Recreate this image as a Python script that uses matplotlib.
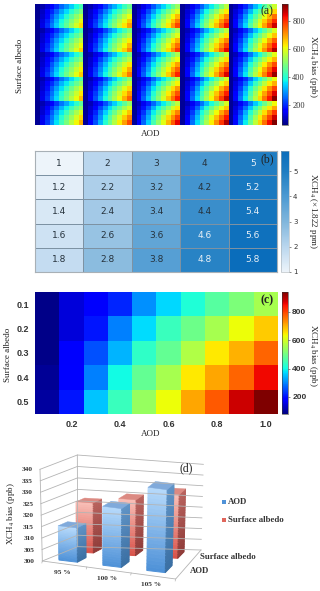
import numpy as np
import matplotlib
matplotlib.use("Agg")
import matplotlib.pyplot as plt
from matplotlib.colors import LinearSegmentedColormap, Normalize
from matplotlib.cm import ScalarMappable
from matplotlib.patches import Polygon, Rectangle

W, H = 320, 591
SERIF = "Liberation Serif"
SANS = "Liberation Sans"

# panel (c): XCH4 bias per surface albedo (rows) and AOD (columns)
aod_ticks = [0.2, 0.4, 0.6, 0.8, 1.0]
albedo_ticks = [0.1, 0.2, 0.3, 0.4, 0.5]
row_01 = [90, 150, 175, 220, 310, 370, 415, 470, 510, 555]
row_02 = [90, 150, 205, 295, 375, 440, 495, 555, 630, 675]
row_03 = [90, 175, 255, 340, 430, 485, 565, 650, 700, 770]
row_04 = [100, 190, 295, 400, 485, 555, 650, 710, 770, 855]
row_05 = [105, 205, 355, 440, 540, 630, 710, 780, 880, 940]
panel_c = np.array([row_01, row_02, row_03, row_04, row_05], float)

# panel (a): typical block pattern, and the highest value read from each of the 25 blocks
a_row_1 = [75, 105, 150, 205, 270, 340, 400, 470, 540, 610]
a_row_2 = [75, 130, 190, 260, 340, 420, 490, 560, 630, 690]
a_row_3 = [75, 140, 220, 310, 400, 480, 560, 640, 720, 790]
a_row_4 = [80, 160, 250, 340, 440, 530, 620, 700, 780, 860]
a_row_5 = [80, 170, 270, 370, 470, 560, 650, 740, 830, 920]
block_pattern = np.array([a_row_1, a_row_2, a_row_3, a_row_4, a_row_5], float)
block_peaks = np.array([
    [640, 700, 780, 830, 860],
    [650, 720, 790, 840, 880],
    [660, 730, 810, 850, 900],
    [670, 750, 820, 870, 910],
    [680, 770, 840, 880, 920],
], float)

# panel (b): multipliers of the 1.822 ppm background
panel_b = np.array([
    [1.0, 2.0, 3.0, 4.0, 5.0],
    [1.2, 2.2, 3.2, 4.2, 5.2],
    [1.4, 2.4, 3.4, 4.4, 5.4],
    [1.6, 2.6, 3.6, 4.6, 5.6],
    [1.8, 2.8, 3.8, 4.8, 5.8],
])
panel_b_labels = [
    ["1", "2", "3", "4", "5"],
    ["1.2", "2.2", "3.2", "4.2", "5.2"],
    ["1.4", "2.4", "3.4", "4.4", "5.4"],
    ["1.6", "2.6", "3.6", "4.6", "5.6"],
    ["1.8", "2.8", "3.8", "4.8", "5.8"],
]

# panel (d)
d_categories = ["95 %", "100 %", "105 %"]
d_aod = [315, 326, 337]
d_albedo = [322, 325, 329]
d_levels = [300, 305, 310, 315, 320, 325, 330, 335, 340]

fig = plt.figure(figsize=(W / 100, H / 100), dpi=100, facecolor="white")


def ax_px(x0, y0, x1, y1, **kw):
    return fig.add_axes([x0 / W, 1 - y1 / H, (x1 - x0) / W, (y1 - y0) / H], **kw)


def ftext(x, y, s, **kw):
    kw.setdefault("ha", "center")
    kw.setdefault("va", "center")
    kw.setdefault("family", SERIF)
    kw.setdefault("color", "#222222")
    fig.text(x / W, 1 - y / H, s, **kw)


def colorbar(box, cmap, vmin, vmax, ticks, size, family, weight="normal", edge="#333333"):
    cax = ax_px(*box)
    cb = fig.colorbar(ScalarMappable(Normalize(vmin, vmax), cmap), cax=cax)
    cb.set_ticks(ticks)
    cb.ax.tick_params(labelsize=size, length=1.5, width=0.4, pad=1.5, colors="#333333")
    for t in cb.ax.get_yticklabels():
        t.set_family(family)
        t.set_weight(weight)
    cb.outline.set_linewidth(0.4)
    cb.outline.set_edgecolor(edge)
    return cb


CH4 = "XCH$_4$ bias (ppb)"

# ---------- panel (a)
floor = 70.0
rows = []
for r in range(5):
    rows.append(np.hstack([floor + (block_pattern - floor) * (block_peaks[r, c] - floor)
                           / (block_pattern.max() - floor) for c in range(5)]))
mosaic = np.vstack(rows)
ax = ax_px(35, 4, 277, 125)
ax.imshow(mosaic, cmap="jet", vmin=57, vmax=920, aspect="auto", interpolation="nearest")
ax.set_xticks([]); ax.set_yticks([])
for s in ax.spines.values():
    s.set_visible(False)
colorbar((282, 4, 288, 125), "jet", 57, 920, [200, 400, 600, 800], 6, SERIF)
ftext(267, 11, "(a)", fontsize=8.5)
ftext(151, 134, "AOD", fontsize=6.5)
ftext(20, 66, "Surface albedo", fontsize=6.5, rotation=90)
ftext(313, 66, CH4, fontsize=6.5, rotation=270, math_fontfamily="stix")

# ---------- panel (b)
blues = LinearSegmentedColormap.from_list("b", [
    (0.0, "#edf4fa"), (1 / 4.8, "#b9d6ee"), (2 / 4.8, "#80b6dc"),
    (3 / 4.8, "#4c9ad2"), (4 / 4.8, "#1f7dc2"), (1.0, "#0a6dbb")])
ax = ax_px(35, 151, 277, 272)
ax.pcolormesh(np.arange(6), np.arange(6), panel_b, cmap=blues, vmin=1, vmax=5.8,
              edgecolors="#7d92a3", linewidth=0.6)
ax.set_ylim(5, 0); ax.set_xlim(0, 5)
ax.set_xticks([]); ax.set_yticks([])
for s in ax.spines.values():
    s.set_edgecolor("#a8b0b6"); s.set_linewidth(0.8)
for i in range(5):
    for j in range(5):
        v = panel_b[i, j]
        ax.text(j + 0.5, i + 0.5, panel_b_labels[i][j], ha="center", va="center",
                fontsize=6.5, color="#e8f0f6" if v >= 4.6 or v == 5 else "#26323c")
colorbar((281, 151, 289, 272), blues, 1, 5.8, [1, 2, 3, 4, 5], 5, "DejaVu Sans", edge="#a8b0b6")
ftext(267, 159, "(b)", fontsize=8.5)
ftext(313, 211, "XCH$_4$ (×1.822 ppm)", fontsize=6.5, rotation=270, math_fontfamily="stix")

# ---------- panel (c)
ax = ax_px(35, 292, 278, 414)
ax.imshow(panel_c, cmap="jet", vmin=80, vmax=940, aspect="auto", interpolation="nearest",
          extent=[0.05, 1.05, 0.55, 0.05])
ax.set_xticks(aod_ticks); ax.set_yticks(albedo_ticks)
ax.set_xticklabels([f"{v:.1f}" for v in aod_ticks])
ax.set_yticklabels([f"{v:.1f}" for v in albedo_ticks])
ax.tick_params(labelsize=6.5, length=0, pad=4, colors="#333333")
for t in ax.get_xticklabels() + ax.get_yticklabels():
    t.set_family(SANS); t.set_weight("bold")
for s in ax.spines.values():
    s.set_visible(False)
colorbar((282, 292, 288, 414), "jet", 80, 940, [200, 400, 600, 800], 6, SANS, weight="bold")
ftext(267, 300, "(c)", fontsize=8.5, weight="bold")
ftext(151, 434, "AOD", fontsize=6.5)
ftext(8, 355, "Surface albedo", fontsize=6.5, rotation=90)
ftext(313, 355, CH4, fontsize=6.5, rotation=270, math_fontfamily="stix")

# ---------- panel (d): a hand-built 3-D box chart on a pixel-scaled overlay
ov = fig.add_axes([0, 0, 1, 1], zorder=-1)
ov.set_xlim(0, W); ov.set_ylim(H, 0); ov.axis("off")


def zp(x, y):
    return np.array([x / 3, 425 + y / 3])


# chart box corners, floor then ceiling: front-left, front-right, back-left, back-right
C000, C100, C010, C110 = zp(127, 408), zp(527, 462), zp(233, 365), zp(603, 375)
C001, C101, C011, C111 = zp(120, 133), zp(535, 192), zp(232, 90), zp(610, 118)
LOW, HIGH = d_levels[0], d_levels[-1]


def proj(u, d, v):
    a, b, c = u / 3, d, (v - LOW) / (HIGH - LOW)
    return ((1 - a) * (1 - b) * (1 - c) * C000 + a * (1 - b) * (1 - c) * C100
            + (1 - a) * b * (1 - c) * C010 + a * b * (1 - c) * C110
            + (1 - a) * (1 - b) * c * C001 + a * (1 - b) * c * C101
            + (1 - a) * b * c * C011 + a * b * c * C111)


GRID = "#b4b4b4"
for v in d_levels:
    pts = [proj(0, 0, v), proj(0, 1, v), proj(3, 1, v)]
    ov.plot(*zip(*pts), color=GRID, lw=0.6, solid_joinstyle="miter")
    ov.text(*(proj(0, 0, v) + np.array([-13, 0.5])), str(v), ha="center", va="center",
            fontsize=5.3, family=SERIF, weight="bold", color="#333333")
ov.plot(*zip(proj(0, 0, LOW), proj(0, 0, HIGH)), color=GRID, lw=0.6)
ov.plot(*zip(proj(0, 1, LOW), proj(0, 1, HIGH)), color=GRID, lw=0.6)
ov.plot(*zip(proj(0, 0, LOW), proj(3, 0, LOW), proj(3, 1, LOW)), color=GRID, lw=0.6)
for k in range(4):
    p0 = proj(k, 0, LOW)
    ov.plot([p0[0], p0[0] - 0.5], [p0[1], p0[1] + 2], color=GRID, lw=0.5)


def mix(a, b, t):
    a, b = np.array(matplotlib.colors.to_rgb(a)), np.array(matplotlib.colors.to_rgb(b))
    return a + (b - a) * t


def box(u0, u1, d0, d1, v, front, side, top):
    n = 24
    vs = np.linspace(LOW, v, n + 1)
    for i in range(n):
        t = i / (n - 1)
        col = mix(front[0], front[1], t)
        ov.add_patch(Polygon([proj(u0, d0, vs[i]), proj(u1, d0, vs[i]), proj(u1, d0, vs[i + 1]),
                              proj(u0, d0, vs[i + 1])], closed=True, fc=col, ec=col, lw=0.7))
        col = mix(side[0], side[1], t)
        ov.add_patch(Polygon([proj(u1, d0, vs[i]), proj(u1, d1, vs[i]), proj(u1, d1, vs[i + 1]),
                              proj(u1, d0, vs[i + 1])], closed=True, fc=col, ec=col, lw=0.7))
    ov.add_patch(Polygon([proj(u0, d0, v), proj(u1, d0, v), proj(u1, d1, v), proj(u0, d1, v)],
                         closed=True, fc=top, ec=top, lw=0.3))


BLUE = dict(front=("#4f92d8", "#b4d8fa"), side=("#3a6fa3", "#5f93c6"), top="#80aadb")
RED = dict(front=("#d9534a", "#f8bdb5"), side=("#8f3b38", "#b8625d"), top="#dc8a82")
for i, v in enumerate(d_albedo):
    box(i + 0.24, i + 0.64, 0.68, 0.92, v, **RED)
for i, v in enumerate(d_aod):
    box(i + 0.25, i + 0.67, 0.16, 0.42, v, **BLUE)

for i, lab in enumerate(d_categories):
    p = proj(i + 0.5, 0, LOW)
    ov.text(p[0] - 2, p[1] + 8, lab, ha="center", va="center", fontsize=5.3, family=SERIF,
            weight="bold", color="#333333")
ov.text(*zp(601, 395), "Surface albedo", ha="left", va="center", fontsize=6.3, family=SERIF,
        weight="bold", color="#333333")
ov.text(*zp(570, 437), "AOD", ha="left", va="center", fontsize=6.3, family=SERIF,
        weight="bold", color="#333333")
ov.add_patch(Rectangle(zp(665, 225), 4, 4, fc="#4f92d8", ec="none"))
ov.add_patch(Rectangle(zp(665, 280), 4, 4, fc="#e0665c", ec="none"))
ov.text(*zp(684, 231), "AOD", ha="left", va="center", fontsize=6.3, family=SERIF,
        weight="bold", color="#333333")
ov.text(*zp(684, 286), "Surface albedo", ha="left", va="center", fontsize=6.3, family=SERIF,
        weight="bold", color="#333333")
ov.text(*zp(560, 130), "(d)", ha="center", va="center", fontsize=8.5, family=SERIF, color="#222222")
ftext(11, 514, CH4, fontsize=6.5, rotation=90, math_fontfamily="stix")

fig.savefig("out.png", dpi=100, facecolor="white")
